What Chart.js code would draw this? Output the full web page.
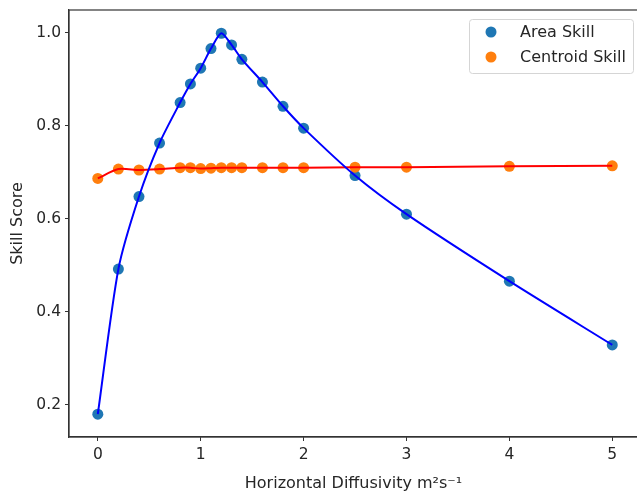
<!DOCTYPE html>
<html>
<head>
<meta charset="utf-8">
<script src="https://cdn.jsdelivr.net/npm/chart.js@4.4.1/dist/chart.umd.min.js"></script>
<style>
  html, body { margin: 0; padding: 0; background: #fff; overflow: hidden; }
  #wrap { width: 645px; height: 493px; position: relative; }
</style>
</head>
<body>
<div id="wrap"><canvas id="c"></canvas></div>
<script>
// ---- data ----
const diffusivity = [0, 0.2, 0.4, 0.6, 0.8, 0.9, 1.0, 1.1, 1.2, 1.3, 1.4, 1.6, 1.8, 2.0, 2.5, 3, 4, 5];
const areaSkill = [0.180, 0.492, 0.648, 0.763, 0.850, 0.890, 0.924, 0.966, 0.999, 0.974, 0.943, 0.894, 0.842, 0.795, 0.693, 0.610, 0.466, 0.329];
const centroidSkill = [0.687, 0.707, 0.705, 0.707, 0.710, 0.710, 0.708, 0.709, 0.710, 0.710, 0.710, 0.710, 0.710, 0.710, 0.711, 0.711, 0.713, 0.714];
const xTicks = [0, 1, 2, 3, 4, 5];
const yTicks = [0.2, 0.4, 0.6, 0.8, 1.0];
const seriesLabels = ['Area Skill', 'Centroid Skill'];
const xTitle = 'Horizontal Diffusivity m\u00B2s\u207B\u00B9';
const yTitle = 'Skill Score';

const toXY = (ys) => diffusivity.map((x, i) => ({ x: x, y: ys[i] }));

const FONT = "'DejaVu Sans', sans-serif";
const TXT = '#262626';

const framePlugin = {
  id: 'frame',
  afterDatasetsDraw(chart) {
    const a = chart.chartArea, ctx = chart.ctx;
    ctx.save();
    ctx.strokeStyle = '#333';
    ctx.lineWidth = 1.2;
    ctx.strokeRect(a.left, a.top, a.right - a.left, a.bottom - a.top);
    ctx.restore();
  }
};

const legendPlugin = {
  id: 'mplLegend',
  afterDraw(chart) {
    const ctx = chart.ctx;
    const x0 = 469, y0 = 19, w = 164, h = 54;
    ctx.save();
    ctx.fillStyle = 'rgba(255,255,255,0.85)';
    ctx.strokeStyle = '#d5d5d5';
    ctx.lineWidth = 1;
    ctx.beginPath();
    ctx.roundRect(x0 + 0.5, y0 + 0.5, w, h, 3);
    ctx.fill();
    ctx.stroke();
    const items = [
      { label: seriesLabels[0], color: '#1f77b4', y: 32 },
      { label: seriesLabels[1], color: '#ff7f0e', y: 57 }
    ];
    ctx.font = '16px ' + FONT;
    ctx.textBaseline = 'middle';
    ctx.textAlign = 'left';
    items.forEach(it => {
      ctx.fillStyle = it.color;
      ctx.beginPath();
      ctx.arc(491, it.y, 5.5, 0, Math.PI * 2);
      ctx.fill();
      ctx.fillStyle = TXT;
      ctx.fillText(it.label, 520, it.y + 1);
    });
    ctx.restore();
  }
};

new Chart(document.getElementById('c'), {
  data: {
    datasets: [
      { type: 'line', label: 'Area fit', data: toXY(areaSkill), borderColor: '#0000ff', borderWidth: 2, pointRadius: 0, tension: 0.25, fill: false, order: 0 },
      { type: 'line', label: 'Centroid fit', data: toXY(centroidSkill), borderColor: '#ff0000', borderWidth: 2, pointRadius: 0, tension: 0.25, fill: false, order: 1 },
      { type: 'scatter', label: seriesLabels[0], data: toXY(areaSkill), backgroundColor: '#1f77b4', borderWidth: 0, pointRadius: 5.5, order: 3 },
      { type: 'scatter', label: seriesLabels[1], data: toXY(centroidSkill), backgroundColor: '#ff7f0e', borderWidth: 0, pointRadius: 5.5, order: 2 }
    ]
  },
  options: {
    responsive: true,
    maintainAspectRatio: false,
    animation: false,
    devicePixelRatio: 1,
    layout: { padding: { left: 0, right: 7, top: 10, bottom: 0 } },
    plugins: { legend: { display: false }, tooltip: { enabled: false } },
    scales: {
      x: {
        type: 'linear',
        min: -0.28,
        max: 5.25,
        afterBuildTicks: (s) => { s.ticks = xTicks.map(v => ({ value: v })); },
        afterFit: (s) => { s.height = 56; s.paddingLeft = 0; s.paddingRight = 0; },
        ticks: { font: { family: FONT, size: 15.5 }, color: TXT, padding: 5, maxRotation: 0, callback: (v) => String(v) },
        grid: { display: true, drawOnChartArea: false, drawTicks: true, tickLength: 4, color: '#333', lineWidth: 1 },
        border: { display: true, color: '#333', width: 1.2 },
        title: { display: true, text: xTitle, font: { family: FONT, size: 16 }, color: TXT, padding: { top: 0, bottom: 0 } }
      },
      y: {
        type: 'linear',
        min: 0.131,
        max: 1.049,
        afterBuildTicks: (s) => { s.ticks = yTicks.map(v => ({ value: v })); },
        afterFit: (s) => { s.width = 69; s.paddingTop = 0; s.paddingBottom = 0; },
        ticks: { font: { family: FONT, size: 15.5 }, color: TXT, padding: 4, callback: (v) => Number(v).toFixed(1) },
        grid: { display: true, drawOnChartArea: false, drawTicks: true, tickLength: 4, color: '#333', lineWidth: 1 },
        border: { display: true, color: '#333', width: 1.2 },
        title: { display: true, text: yTitle, font: { family: FONT, size: 16 }, color: TXT, padding: { top: 8, bottom: 0 } }
      }
    }
  },
  plugins: [framePlugin, legendPlugin]
});
</script>
</body>
</html>
